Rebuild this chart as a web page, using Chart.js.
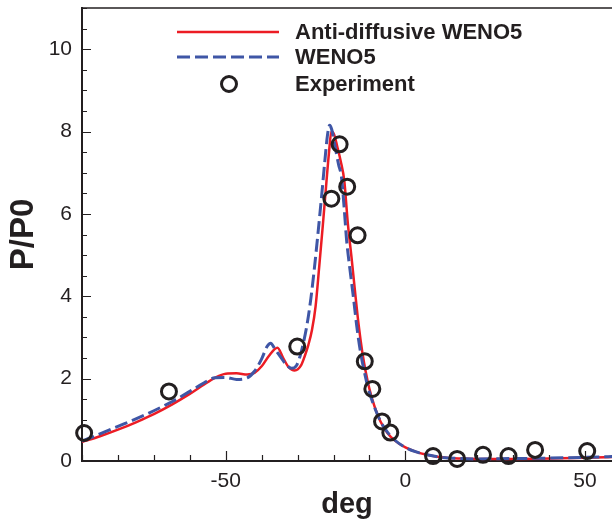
<!DOCTYPE html>
<html>
<head>
<meta charset="utf-8">
<script src="https://cdn.jsdelivr.net/npm/chart.js@4.4.0/dist/chart.umd.min.js"></script>
<style>
html, body { margin: 0; padding: 0; background: #fff; }
</style>
</head>
<body>
<canvas id="pressure-chart" width="612" height="522"></canvas>
<script>
// Experiment
var expDeg = [-89.4, -65.8, -30.1, -20.6, -18.3, -16.2, -13.3, -11.3, -9.2, -6.5, -4.2, 7.7, 14.4, 21.6, 28.7, 36.1, 50.6];
var expP = [0.68, 1.69, 2.78, 6.37, 7.69, 6.66, 5.48, 2.42, 1.75, 0.96, 0.69, 0.12, 0.05, 0.15, 0.12, 0.27, 0.24];

// Anti-diffusive WENO5
var adwenoDeg = [-90, -85, -80, -75, -70, -65, -60, -56, -53, -50, -47, -44, -42, -40, -38, -35.6, -34, -32.5, -30.8, -29,
    -28, -27, -26, -25, -24, -23, -22, -21.2, -20.6, -19.8, -19, -18, -17, -16, -15, -14, -13, -12, -11, -10,
    -8.5, -7, -5, -3, 0, 3, 6, 10, 15, 20, 30, 40, 50, 58];
var adwenoP = [0.46, 0.6, 0.76, 0.94, 1.14, 1.37, 1.63, 1.86, 2.02, 2.12, 2.13, 2.1, 2.14, 2.3, 2.55, 2.75, 2.5, 2.28, 2.2, 2.33,
    2.55, 2.82, 3.18, 3.75, 4.7, 5.7, 6.75, 7.55, 8.0, 7.92, 7.65, 7.28, 6.8, 5.75, 4.95, 4.1, 3.3, 2.65, 2.15, 1.75,
    1.3, 0.97, 0.68, 0.5, 0.33, 0.22, 0.15, 0.09, 0.06, 0.05, 0.05, 0.06, 0.08, 0.1];

// WENO5
var wenoDeg = [-90, -85, -80, -75, -70, -65, -60, -56, -53, -50, -47, -44, -42, -40, -38.5, -37.5, -36.3, -34.7, -33, -31.7,
    -30.3, -29.3, -28.3, -27.3, -26.3, -25.3, -24.3, -23.3, -22.4, -21.7, -21.1, -20.5, -19.6, -18.6, -17.8, -17, -16.4, -15.5, -14.5, -13.5,
    -12.5, -11.5, -10.5, -9, -7, -5, -3, 0, 3, 6, 10, 15, 20, 30, 40, 50, 58];
var wenoP = [0.48, 0.66, 0.84, 1.02, 1.22, 1.44, 1.69, 1.9, 2.02, 2.03, 1.98, 2.02, 2.18, 2.48, 2.78, 2.86, 2.72, 2.52, 2.32, 2.25,
    2.32, 2.55, 2.9, 3.35, 3.95, 4.7, 5.55, 6.45, 7.3, 7.9, 8.15, 8.05, 7.65, 7.2, 6.9, 6.1, 5.4, 4.7, 4.0, 3.25,
    2.65, 2.2, 1.82, 1.4, 0.98, 0.7, 0.51, 0.33, 0.22, 0.15, 0.09, 0.06, 0.05, 0.06, 0.07, 0.09, 0.11];

// Ejes
var xMajorTicks = [-50, 0, 50];
var xMinorTicks = [-90, -80, -70, -60, -50, -40, -30, -20, -10, 0, 10, 20, 30, 40, 50];
var yMajorTicks = [0, 2, 4, 6, 8, 10];
var xMin = -90, xMax = 57.5, yMin = 0, yMax = 11;

var axisColor = '#231f20';
var redColor = '#ec1c24';
var blueColor = '#3f56a6';

Chart.defaults.font.family = '"Liberation Sans", Arial, Helvetica, sans-serif';
Chart.defaults.color = axisColor;

function toPoints(xs, ys) {
    var pts = [];
    for (var i = 0; i < xs.length; i++) {
        pts.push({ x: xs[i], y: ys[i] });
    }
    return pts;
}

// marcas hacia dentro + borde superior
var framePlugin = {
    id: 'frame',
    afterDraw: function(chart) {
        var ctx = chart.ctx;
        var area = chart.chartArea;
        var sx = chart.scales.x;
        var sy = chart.scales.y;
        ctx.save();
        ctx.strokeStyle = axisColor;
        ctx.lineWidth = 1.5;
        ctx.beginPath();
        ctx.moveTo(area.left, area.top);
        ctx.lineTo(area.right, area.top);
        ctx.stroke();

        ctx.lineWidth = 1.2;
        ctx.beginPath();
        xMinorTicks.forEach(function(v) {
            var px = Math.round(sx.getPixelForValue(v)) + 0.5;
            var len = xMajorTicks.indexOf(v) >= 0 ? 10 : 6;
            ctx.moveTo(px, area.bottom);
            ctx.lineTo(px, area.bottom - len);
        });
        for (var v = yMin; v <= yMax; v += 0.5) {
            var py = Math.round(sy.getPixelForValue(v)) + 0.5;
            var len = yMajorTicks.indexOf(v) >= 0 ? 9 : 5;
            ctx.moveTo(area.left, py);
            ctx.lineTo(area.left + len, py);
        }
        ctx.stroke();
        ctx.restore();
    }
};

// leyenda dentro del grafico
var legendPlugin = {
    id: 'insideLegend',
    afterDraw: function(chart) {
        var ctx = chart.ctx;
        var ds = chart.data.datasets;
        var x0 = 177, x1 = 279, textX = 295;
        var rows = [32, 57, 84];
        ctx.save();
        ctx.font = 'bold 22px "Liberation Sans", Arial, sans-serif';
        ctx.textBaseline = 'middle';
        ctx.fillStyle = axisColor;
        for (var i = 0; i < ds.length; i++) {
            var d = ds[i];
            var y = rows[i];
            if (d.showLine === false) {
                ctx.beginPath();
                ctx.lineWidth = d.pointBorderWidth;
                ctx.strokeStyle = d.pointBorderColor;
                ctx.arc((x0 + x1) / 2 + 1, y, d.pointRadius, 0, Math.PI * 2);
                ctx.stroke();
            } else {
                ctx.beginPath();
                ctx.lineWidth = d.borderWidth;
                ctx.strokeStyle = d.borderColor;
                ctx.setLineDash(d.borderDash || []);
                ctx.moveTo(x0, y);
                ctx.lineTo(x1, y);
                ctx.stroke();
                ctx.setLineDash([]);
            }
            ctx.fillText(d.label, textX, y + 1);
        }
        ctx.restore();
    }
};

document.addEventListener('DOMContentLoaded', function() {
    drawPressureChart();
});

function drawPressureChart() {
    var ctx = document.getElementById('pressure-chart').getContext('2d');
    var chart = new Chart(ctx, {
        type: 'scatter',
        data: {
            datasets: [{
                label: 'Anti-diffusive WENO5',
                data: toPoints(adwenoDeg, adwenoP),
                showLine: true,
                borderColor: redColor,
                borderWidth: 2.5,
                pointRadius: 0,
                cubicInterpolationMode: 'monotone',
                order: 3
            }, {
                label: 'WENO5',
                data: toPoints(wenoDeg, wenoP),
                showLine: true,
                borderColor: blueColor,
                borderWidth: 3,
                borderDash: [13, 5],
                pointRadius: 0,
                cubicInterpolationMode: 'monotone',
                order: 2
            }, {
                label: 'Experiment',
                data: toPoints(expDeg, expP),
                showLine: false,
                pointRadius: 7.5,
                pointBorderWidth: 3,
                pointBorderColor: axisColor,
                pointBackgroundColor: 'rgba(0,0,0,0)',
                clip: false,
                order: 1
            }]
        },
        options: {
            responsive: false,
            animation: false,
            layout: { autoPadding: false, padding: { top: 8, right: 0, left: 0, bottom: 0 } },
            plugins: {
                legend: { display: false },
                tooltip: { enabled: false }
            },
            scales: {
                x: {
                    type: 'linear',
                    min: xMin,
                    max: xMax,
                    afterBuildTicks: function(scale) {
                        scale.ticks = xMajorTicks.map(function(v) { return { value: v }; });
                    },
                    afterFit: function(scale) {
                        scale.height = 61;
                        scale.paddingLeft = 0;
                        scale.paddingRight = 0;
                    },
                    grid: { display: false, drawTicks: false },
                    border: { display: true, color: axisColor, width: 2 },
                    ticks: {
                        padding: 8,
                        maxRotation: 0,
                        font: { size: 21 },
                        color: axisColor
                    },
                    title: {
                        display: true,
                        text: 'deg',
                        font: { size: 29, weight: 'bold' },
                        color: axisColor,
                        padding: { top: 0, bottom: 0 }
                    }
                },
                y: {
                    type: 'linear',
                    min: yMin,
                    max: yMax,
                    afterBuildTicks: function(scale) {
                        scale.ticks = yMajorTicks.map(function(v) { return { value: v }; });
                    },
                    afterFit: function(scale) {
                        scale.width = 82;
                        scale.paddingTop = 0;
                        scale.paddingBottom = 0;
                    },
                    grid: { display: false, drawTicks: false },
                    border: { display: true, color: axisColor, width: 2 },
                    ticks: {
                        padding: 10,
                        font: { size: 21 },
                        color: axisColor
                    },
                    title: {
                        display: true,
                        text: 'P/P0',
                        font: { size: 33, weight: 'bold' },
                        color: axisColor,
                        padding: { top: 4, bottom: 0 }
                    }
                }
            }
        },
        plugins: [framePlugin, legendPlugin]
    });
}
</script>
</body>
</html>
